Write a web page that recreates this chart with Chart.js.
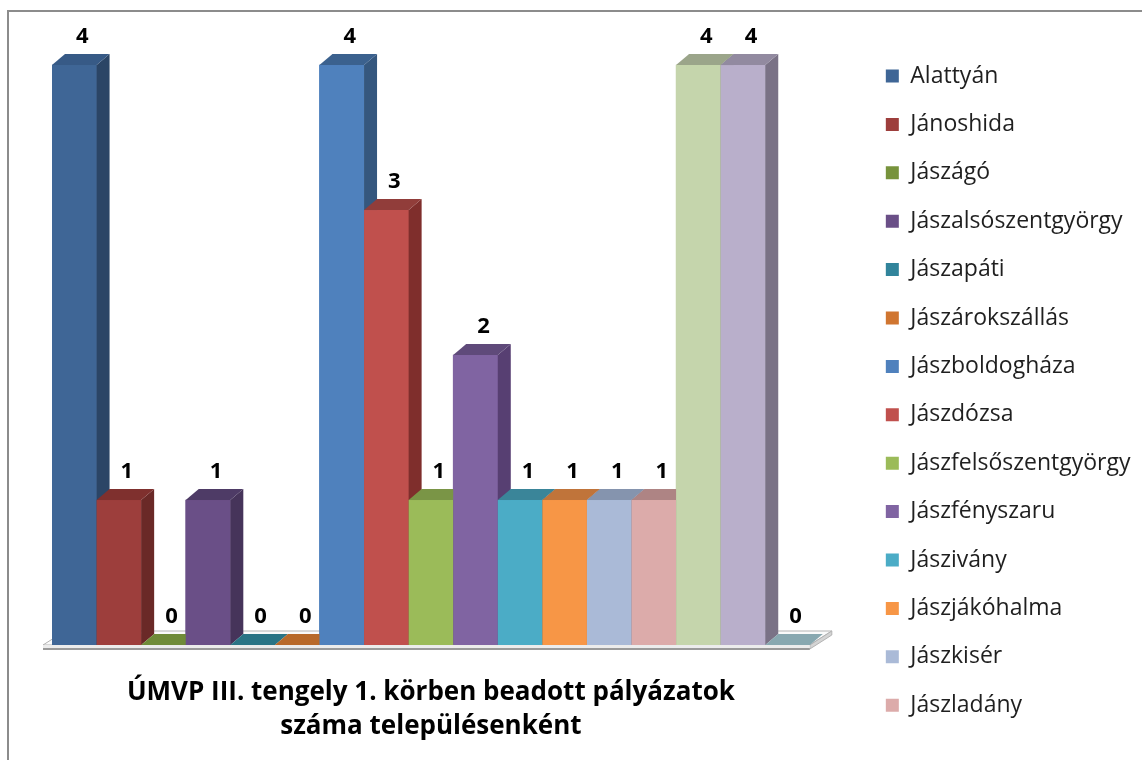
<!DOCTYPE html>
<html>
<head>
<meta charset="utf-8">
<script src="https://cdn.jsdelivr.net/npm/chart.js@4.4.0/dist/chart.umd.min.js"></script>
<style>
html,body{margin:0;padding:0;background:#fff;}
#wrap{width:1142px;height:760px;position:relative;}
</style>
</head>
<body>
<div id="wrap"><canvas id="c" width="1142" height="760"></canvas></div>
<script>
// ---- data ----
const settlements = [
  'Alattyán','Jánoshida','Jászágó','Jászalsószentgyörgy','Jászapáti','Jászárokszállás',
  'Jászboldogháza','Jászdózsa','Jászfelsőszentgyörgy','Jászfényszaru','Jászivány',
  'Jászjákóhalma','Jászkisér','Jászladány','Jászszentandrás','Jásztelek','Pusztamonostor'
];
const values = [4, 1, 0, 1, 0, 0, 4, 3, 1, 2, 1, 1, 1, 1, 4, 4, 0];
const frontColors = ['#3F6696','#9D3E3C','#77933C','#6A4F87','#31849B','#D07530','#4F81BD','#C0504D','#9BBB59','#8064A2','#4BACC6','#F79646','#AABAD7','#DCABAA','#C5D5AC','#B9AFCB','#93B3BC'];
const topColors   = ['#375A86','#7F302E','#6F8B38','#4E3B66','#2A7485','#B8692A','#3B618E','#913D3A','#7A9546','#5F4A7A','#3A8599','#C0743A','#8594AE','#AE8484','#9BA58A','#928AA0','#88A8B0'];
const sideColors  = ['#2B4566','#6A2927','#55702A','#46345A','#215D6B','#8F511F','#35577E','#7F2E2C','#617736','#573F72','#2F6C7C','#A45F2C','#6C7890','#8E6B6B','#80896F','#7A7286','#6F8C94'];
const titleLines = ['ÚMVP III. tengely 1. körben beadott pályázatok', 'száma településenként'];
const legendCount = 14;
const yMax = 4.179;

const depthX = 13, depthY = 11;

const frame3d = {
  id: 'frame3d',
  beforeDraw(chart) {
    const {ctx} = chart;
    ctx.save();
    ctx.fillStyle = '#fff';
    ctx.fillRect(0, 0, chart.width, chart.height);
    ctx.strokeStyle = '#8c8c8c';
    ctx.lineWidth = 2;
    ctx.beginPath();
    ctx.moveTo(8, chart.height + 2);
    ctx.lineTo(8, 11);
    ctx.lineTo(chart.width + 2, 11);
    ctx.stroke();
    ctx.restore();
  },
  beforeDatasetsDraw(chart) {
    const {ctx, chartArea: a} = chart;
    const base = chart.scales.y.getPixelForValue(0);
    const L = a.left - 9, R = a.right, fx = 22, fy = 14;
    ctx.save();
    ctx.lineWidth = 1;
    ctx.strokeStyle = '#b3b3b3';
    ctx.beginPath();
    ctx.moveTo(L, base); ctx.lineTo(L + fx, base - fy); ctx.lineTo(R + fx, base - fy); ctx.lineTo(R, base); ctx.closePath();
    ctx.fillStyle = '#fafafa'; ctx.fill(); ctx.stroke();
    ctx.beginPath();
    ctx.moveTo(R, base); ctx.lineTo(R + fx, base - fy); ctx.lineTo(R + fx, base - fy + 4); ctx.lineTo(R, base + 4); ctx.closePath();
    ctx.fillStyle = '#d4d4d4'; ctx.fill(); ctx.stroke();
    ctx.fillStyle = '#ececec';
    ctx.fillRect(L, base, R - L, 4);
    ctx.strokeStyle = '#9a9a9a'; ctx.lineWidth = 2;
    ctx.beginPath(); ctx.moveTo(L, base + 4); ctx.lineTo(R, base + 4); ctx.stroke();
    ctx.restore();
  },
  afterDatasetsDraw(chart) {
    const {ctx} = chart;
    const n = chart.data.datasets.length;
    ctx.save();
    const bars = [];
    for (let i = 0; i < n; i++) {
      const meta = chart.getDatasetMeta(i);
      if (meta.hidden) continue;
      const el = meta.data[0];
      const p = el.getProps(['x', 'y', 'base', 'width'], true);
      const left = p.x - p.width / 2, right = p.x + p.width / 2;
      bars.push({i, p});
      if (p.base - p.y > 0.5) {
        ctx.fillStyle = frontColors[i];
        ctx.fillRect(left, p.y, p.width, p.base - p.y);
        ctx.fillStyle = sideColors[i];
        ctx.beginPath();
        ctx.moveTo(right, p.y); ctx.lineTo(right + depthX, p.y - depthY);
        ctx.lineTo(right + depthX, p.base - depthY); ctx.lineTo(right, p.base); ctx.closePath(); ctx.fill();
      }
      ctx.fillStyle = topColors[i];
      ctx.beginPath();
      ctx.moveTo(left, p.y); ctx.lineTo(left + depthX, p.y - depthY);
      ctx.lineTo(right + depthX, p.y - depthY); ctx.lineTo(right, p.y); ctx.closePath(); ctx.fill();
    }
    ctx.fillStyle = '#000';
    ctx.font = 'bold 22px "Open Sans"';
    ctx.textAlign = 'center';
    ctx.textBaseline = 'middle';
    bars.forEach(({i, p}) => {
      ctx.fillText(String(chart.data.datasets[i].data[0]), p.x + 8, p.y - 28);
    });
    ctx.restore();
  }
};

const datasets = settlements.map((name, i) => ({
  label: name,
  data: [values[i]],
  backgroundColor: frontColors[i],
  borderWidth: 0,
  categoryPercentage: 1,
  barPercentage: 1
}));

new Chart(document.getElementById('c'), {
  type: 'bar',
  data: { labels: [''], datasets },
  plugins: [frame3d],
  options: {
    responsive: false,
    devicePixelRatio: 1,
    animation: false,
    layout: { padding: { left: 52, top: 39.1, right: 1.5, bottom: 0 } },
    scales: {
      x: { display: false },
      y: {
        position: 'right',
        min: 0, max: yMax,
        ticks: { display: false },
        grid: { display: false },
        border: { display: false },
        afterFit(scale) { scale.width = 50.6; }
      }
    },
    plugins: {
      tooltip: { enabled: false },
      legend: {
        position: 'right',
        align: 'start',
        maxWidth: 1000,
        labels: {
          boxWidth: 13,
          boxHeight: 13,
          padding: 25.4,
          color: '#1f1f1f',
          font: { family: 'Open Sans', size: 23 },
          filter: (item) => item.datasetIndex < legendCount
        }
      },
      title: {
        display: true,
        position: 'bottom',
        fullSize: false,
        text: titleLines,
        color: '#000',
        font: { family: 'Open Sans', size: 26, weight: 'bold', lineHeight: 34 / 26 },
        padding: { top: 31, bottom: 16 }
      }
    }
  }
});
</script>
</body>
</html>
